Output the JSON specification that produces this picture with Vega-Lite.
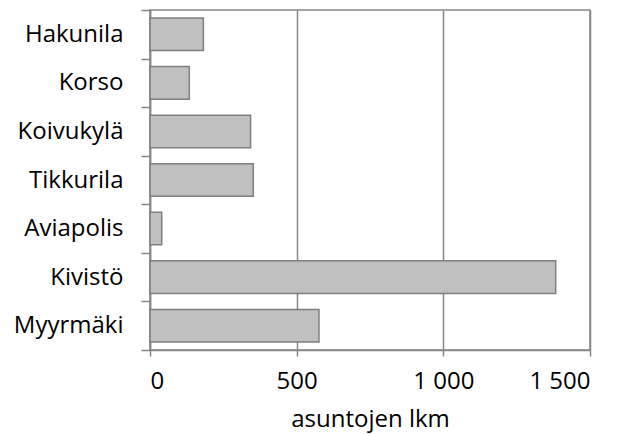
{
  "$schema": "https://vega.github.io/schema/vega-lite/v6.json",
  "width": 440,
  "height": 340,
  "autosize": "none",
  "padding": {"left": 150, "top": 10, "right": 33, "bottom": 84},
  "background": "white",
  "data": {
    "values": [
      {"alue": "Hakunila", "asunnot": 182},
      {"alue": "Korso", "asunnot": 134},
      {"alue": "Koivukylä", "asunnot": 343},
      {"alue": "Tikkurila", "asunnot": 352},
      {"alue": "Aviapolis", "asunnot": 40},
      {"alue": "Kivistö", "asunnot": 1383},
      {"alue": "Myyrmäki", "asunnot": 576}
    ]
  },
  "mark": {"type": "bar", "fill": "#c0c0c0", "stroke": "#7f7f7f", "strokeWidth": 1.5, "height": {"band": 0.67}},
  "encoding": {
    "y": {
      "field": "alue",
      "type": "nominal",
      "sort": null,
      "scale": {"paddingInner": 0, "paddingOuter": 0},
      "axis": {
        "title": null,
        "tickBand": "extent",
        "tickSize": 9,
        "tickWidth": 1.5,
        "tickColor": "#868686",
        "domainColor": "#868686",
        "domainWidth": 1.5,
        "labelPadding": 18,
        "labelFont": "Open Sans",
        "labelFontSize": 24,
        "labelColor": "#000000",
        "grid": false
      }
    },
    "x": {
      "field": "asunnot",
      "type": "quantitative",
      "scale": {"domain": [0, 1500], "nice": false},
      "axis": {
        "title": "asuntojen lkm",
        "values": [0, 500, 1000, 1500],
        "labelExpr": "replace(format(datum.value, ','), ',', ' ')",
        "tickSize": 6,
        "tickWidth": 1.5,
        "tickColor": "#868686",
        "domainColor": "#868686",
        "domainWidth": 1.5,
        "grid": true,
        "gridColor": "#868686",
        "gridWidth": 1.5,
        "gridOpacity": 1,
        "labelPadding": 13,
        "labelFont": "Open Sans",
        "labelFontSize": 24,
        "labelColor": "#000000",
        "titleFont": "Open Sans",
        "titleFontSize": 24,
        "titleFontWeight": "normal",
        "titleColor": "#000000",
        "titlePadding": 14
      }
    }
  },
  "config": {
    "view": {"stroke": "#868686", "strokeWidth": 1.5}
  }
}
